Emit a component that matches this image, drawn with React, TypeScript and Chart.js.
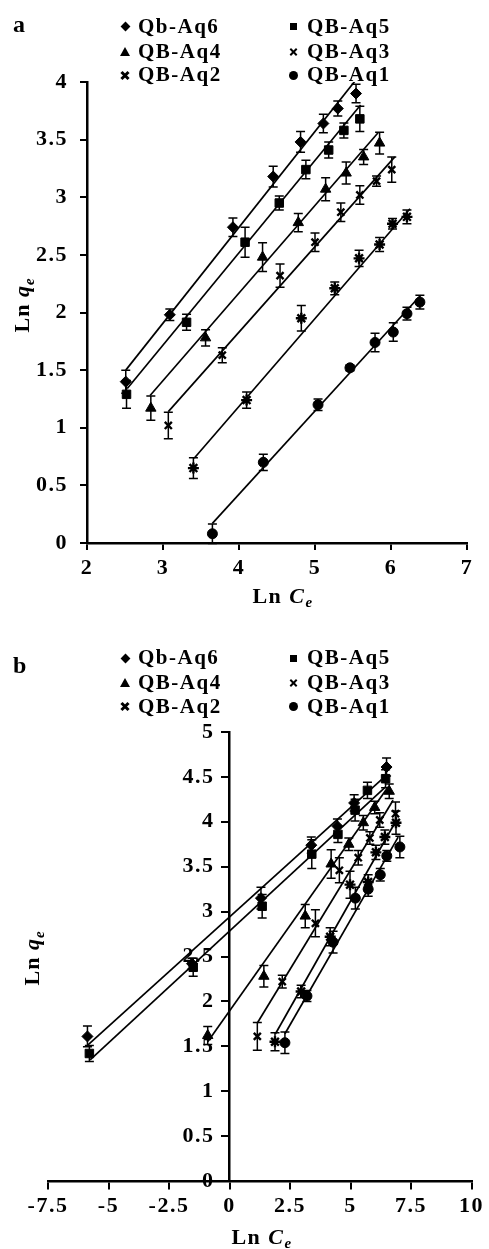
import React, { useEffect, useRef } from "react";
import { Chart, registerables } from "chart.js";

Chart.register(...registerables);

// ---------- data ----------
const seriesNames = ["Qb-Aq6", "QB-Aq5", "QB-Aq4", "QB-Aq3", "QB-Aq2", "QB-Aq1"];
const pointStyles = ["rectRot", "rect", "triangle", "crossRot", "star", "circle"];

// Panel a : [Ln Ce, Ln qe, error]
const aAq6 = [[2.51, 1.40, 0.10], [3.09, 1.98, 0.05], [3.92, 2.74, 0.08], [4.45, 3.18, 0.09], [4.81, 3.48, 0.09], [5.11, 3.64, 0.08], [5.30, 3.77, 0.065], [5.54, 3.90, 0.08]];
const aAq5 = [[2.52, 1.29, 0.12], [3.31, 1.915, 0.07], [4.08, 2.61, 0.13], [4.53, 2.95, 0.06], [4.88, 3.24, 0.08], [5.18, 3.41, 0.07], [5.38, 3.58, 0.065], [5.59, 3.68, 0.11]];
const aAq4 = [[2.84, 1.17, 0.105], [3.56, 1.78, 0.07], [4.31, 2.48, 0.125], [4.78, 2.78, 0.08], [5.14, 3.07, 0.10], [5.41, 3.21, 0.095], [5.64, 3.35, 0.065], [5.85, 3.47, 0.095]];
const aAq3 = [[3.07, 1.02, 0.115], [3.78, 1.63, 0.065], [4.54, 2.32, 0.10], [5.00, 2.61, 0.08], [5.34, 2.87, 0.08], [5.59, 3.02, 0.08], [5.81, 3.14, 0.045], [6.01, 3.24, 0.11]];
const aAq2 = [[3.40, 0.65, 0.09], [4.10, 1.24, 0.07], [4.82, 1.95, 0.11], [5.26, 2.21, 0.055], [5.58, 2.47, 0.07], [5.85, 2.59, 0.06], [6.02, 2.77, 0.045], [6.21, 2.83, 0.06]];
const aAq1 = [[3.65, 0.08, 0.085], [4.32, 0.70, 0.07], [5.04, 1.20, 0.05], [5.46, 1.52, 0.025], [5.79, 1.74, 0.08], [6.03, 1.83, 0.08], [6.21, 1.99, 0.055], [6.38, 2.09, 0.06]];
// fitted lines [x0, y0, x1, y1]
const aFits = [[2.51, 1.50, 5.54, 4.02], [2.53, 1.34, 5.60, 3.80], [2.83, 1.28, 5.83, 3.56], [3.07, 1.14, 6.05, 3.35], [3.41, 0.735, 6.25, 2.90], [3.65, 0.17, 6.39, 2.15]];
const aXTicks = [2, 3, 4, 5, 6, 7];
const aXLabels = ["2", "3", "4", "5", "6", "7"];
const aYTicks = [0, 0.5, 1, 1.5, 2, 2.5, 3, 3.5, 4];
const aYLabels = ["0", "0.5", "1", "1.5", "2", "2.5", "3", "3.5", "4"];

// Panel b : [Ln Ce, Ln qe, error]
const bAq6 = [[-5.87, 1.61, 0.115], [-1.55, 2.42, 0.06], [1.30, 3.15, 0.12], [3.38, 3.74, 0.09], [4.46, 3.95, 0.08], [5.15, 4.21, 0.09], [6.49, 4.61, 0.10]];
const bAq5 = [[-5.79, 1.42, 0.09], [-1.50, 2.38, 0.10], [1.35, 3.06, 0.13], [3.40, 3.64, 0.16], [4.48, 3.86, 0.09], [5.19, 4.13, 0.12], [5.70, 4.35, 0.09], [6.45, 4.48, 0.10]];
const bAq4 = [[-0.90, 1.62, 0.10], [1.42, 2.28, 0.12], [3.13, 2.95, 0.13], [4.20, 3.53, 0.16], [4.93, 3.75, 0.07], [5.53, 3.99, 0.08], [6.00, 4.16, 0.07], [6.60, 4.34, 0.08]];
const bAq3 = [[1.15, 1.61, 0.155], [2.18, 2.22, 0.07], [3.55, 2.87, 0.15], [4.54, 3.46, 0.14], [5.32, 3.60, 0.08], [5.80, 3.82, 0.07], [6.21, 4.02, 0.08], [6.86, 4.09, 0.13]];
const bAq2 = [[1.88, 1.55, 0.10], [2.96, 2.11, 0.07], [4.16, 2.72, 0.10], [4.98, 3.30, 0.15], [5.73, 3.33, 0.08], [6.05, 3.66, 0.08], [6.42, 3.83, 0.08], [6.88, 3.99, 0.13]];
const bAq1 = [[2.29, 1.54, 0.12], [3.20, 2.06, 0.06], [4.28, 2.66, 0.12], [5.20, 3.15, 0.12], [5.73, 3.25, 0.08], [6.23, 3.41, 0.07], [6.50, 3.62, 0.06], [7.04, 3.72, 0.12]];
const bFits = [[-5.87, 1.51, 6.28, 4.47], [-5.76, 1.35, 6.45, 4.39], [-0.90, 1.55, 6.56, 4.39], [1.15, 1.76, 6.76, 4.24], [1.90, 1.64, 6.90, 4.02], [2.29, 1.64, 6.97, 3.83]];
const bXTicks = [-7.5, -5, -2.5, 0, 2.5, 5, 7.5, 10];
const bXLabels = ["-7.5", "-5", "-2.5", "0", "2.5", "5", "7.5", "10"];
const bYTicks = [0, 0.5, 1, 1.5, 2, 2.5, 3, 3.5, 4, 4.5, 5];
const bYLabels = ["0", "0.5", "1", "1.5", "2", "2.5", "3", "3.5", "4", "4.5", "5"];

// ---------- helpers ----------
const SERIF = '"Liberation Serif", "Times New Roman", serif';
const tickFont = { family: SERIF, size: 22, weight: "bold" as const };

const radii = [5.5, 6, 6, 5, 5.5, 5];
const borderWidths = [1, 1, 1, 2.4, 2.4, 1];

function buildDatasets(series: number[][][], fits: number[][]) {
  const ds: any[] = [];
  series.forEach((pts, i) => {
    ds.push({
      label: seriesNames[i],
      errorBars: true,
      data: pts.map((p) => ({ x: p[0], y: p[1], err: p[2] })),
      pointStyle: pointStyles[i],
      pointRadius: radii[i],
      pointBorderWidth: borderWidths[i],
      backgroundColor: "#000",
      borderColor: "#000",
      showLine: false,
    });
  });
  fits.forEach((f) => {
    ds.push({
      label: "fit",
      data: [{ x: f[0], y: f[1] }, { x: f[2], y: f[3] }],
      showLine: true,
      borderColor: "#000",
      borderWidth: 1.7,
      pointRadius: 0,
      fill: false,
    });
  });
  return ds;
}

const errorBarPlugin = {
  id: "errorBars",
  beforeDatasetsDraw(chart: any) {
    const ctx = chart.ctx;
    const ys = chart.scales.y;
    ctx.save();
    ctx.strokeStyle = "#000";
    ctx.lineWidth = 1.5;
    chart.data.datasets.forEach((ds: any, i: number) => {
      if (!ds.errorBars) return;
      const meta = chart.getDatasetMeta(i);
      meta.data.forEach((el: any, j: number) => {
        const raw = ds.data[j];
        const top = ys.getPixelForValue(raw.y + raw.err);
        const bot = ys.getPixelForValue(raw.y - raw.err);
        const x = el.x;
        ctx.beginPath();
        ctx.moveTo(x, top);
        ctx.lineTo(x, bot);
        ctx.moveTo(x - 4.5, top);
        ctx.lineTo(x + 4.5, top);
        ctx.moveTo(x - 4.5, bot);
        ctx.lineTo(x + 4.5, bot);
        ctx.stroke();
      });
    });
    ctx.restore();
  },
};

const spacingPlugin = {
  id: "spacing",
  beforeUpdate(chart: any) {
    chart.ctx.letterSpacing = "1.5px";
  },
  beforeDraw(chart: any) {
    chart.ctx.letterSpacing = "1.5px";
  },
};

// a y axis placed at a data value draws its labels on the axis line; move them out past the tick marks
const shiftYLabelsPlugin = {
  id: "shiftY",
  beforeDraw(chart: any, _args: any, opts: any) {
    if (!opts || !opts.dx) return;
    const items = chart.scales.y.getLabelItems();
    items.forEach((it: any) => {
      if (!it._shifted) {
        it.options.translation[0] -= opts.dx;
        it._shifted = true;
      }
    });
  },
};

function makeAxis(min: number, max: number, ticks: number[], labels: string[], padding: number, extra: any) {
  return {
    type: "linear",
    min,
    max,
    afterBuildTicks: (s: any) => {
      s.ticks = ticks.map((v) => ({ value: v }));
    },
    ticks: {
      font: tickFont,
      color: "#000",
      padding,
      autoSkip: false,
      maxRotation: 0,
      callback: (_v: any, i: number) => labels[i],
    },
    grid: { drawOnChartArea: false, drawTicks: true, tickLength: 7, color: "#000", lineWidth: 2 },
    border: { display: true, color: "#000", width: 2.5 },
    ...extra,
  };
}

// ---------- overlay text ----------
function Txt({ x, baseline, size, children, center }: any) {
  const top = baseline - 0.8375 * size;
  const style: any = {
    position: "absolute",
    top,
    fontFamily: SERIF,
    fontWeight: "bold",
    fontSize: size,
    lineHeight: `${size}px`,
    whiteSpace: "nowrap",
    letterSpacing: "1.5px",
    color: "#000",
  };
  if (center) {
    style.left = x - 100;
    style.width = 200;
    style.textAlign = "center";
  } else {
    style.left = x;
  }
  return <div style={style}>{children}</div>;
}

function VTxt({ cx, cy, size, children }: any) {
  return (
    <div
      style={{
        position: "absolute",
        left: cx - 70,
        top: cy - size / 2,
        width: 140,
        height: size,
        lineHeight: `${size}px`,
        textAlign: "center",
        fontFamily: SERIF,
        fontWeight: "bold",
        fontSize: size,
        whiteSpace: "nowrap",
        letterSpacing: "1px",
        transform: "rotate(-90deg)",
        transformOrigin: "50% 50%",
        color: "#000",
      }}
    >
      {children}
    </div>
  );
}

const Sub = ({ children }: any) => (
  <span style={{ fontSize: "0.68em", position: "relative", top: "0.32em", fontStyle: "italic" }}>{children}</span>
);

function Marker({ kind, cx, cy }: any) {
  const base: any = { position: "absolute" };
  if (kind === 0) {
    return <div style={{ ...base, left: cx - 3.5, top: cy - 3.5, width: 7, height: 7, background: "#000", transform: "rotate(45deg)" }} />;
  }
  if (kind === 1) {
    return <div style={{ ...base, left: cx - 3.5, top: cy - 3.5, width: 7, height: 7, background: "#000" }} />;
  }
  if (kind === 2) {
    return (
      <div
        style={{
          ...base,
          left: cx - 5,
          top: cy - 5,
          width: 0,
          height: 0,
          borderLeft: "5px solid transparent",
          borderRight: "5px solid transparent",
          borderBottom: "9px solid #000",
        }}
      />
    );
  }
  if (kind === 3 || kind === 4) {
    const len = kind === 3 ? 9 : 10;
    const th = kind === 3 ? 2 : 3;
    const bar = (rot: number) => (
      <div
        style={{
          position: "absolute",
          left: cx - len / 2,
          top: cy - th / 2,
          width: len,
          height: th,
          background: "#000",
          transform: `rotate(${rot}deg)`,
        }}
      />
    );
    return (
      <>
        {bar(45)}
        {bar(-45)}
      </>
    );
  }
  return <div style={{ ...base, left: cx - 4.5, top: cy - 4.5, width: 9, height: 9, background: "#000", borderRadius: "50%" }} />;
}

function Legend({ rows }: { rows: number[] }) {
  const colMarker = [125, 293];
  const colText = [138, 307];
  const items: any[] = [];
  seriesNames.forEach((name, i) => {
    const col = i % 2;
    const row = Math.floor(i / 2);
    const baseline = rows[row];
    items.push(<Marker key={"m" + i} kind={i} cx={colMarker[col]} cy={baseline - 6.5} />);
    items.push(
      <Txt key={"t" + i} x={colText[col]} baseline={baseline} size={21}>
        {name}
      </Txt>
    );
  });
  return <>{items}</>;
}

export default function App() {
  const refA = useRef<HTMLCanvasElement>(null);
  const refB = useRef<HTMLCanvasElement>(null);

  useEffect(() => {
    const common = {
      animation: false,
      responsive: false,
      events: [],
    };

    const chartA = new Chart(refA.current as HTMLCanvasElement, {
      type: "scatter",
      data: { datasets: buildDatasets([aAq6, aAq5, aAq4, aAq3, aAq2, aAq1], aFits) },
      options: {
        ...common,
        plugins: { legend: { display: false }, tooltip: { enabled: false } },
        layout: { padding: { left: 27, right: 22, top: 82, bottom: 37 } },
        scales: {
          x: makeAxis(2, 7, aXTicks, aXLabels, 5, {
            position: "bottom",
            afterFit: (s: any) => {
              s.height = 40;
            },
          }),
          y: makeAxis(0, 4, aYTicks, aYLabels, 12, {
            position: "left",
            afterFit: (s: any) => {
              s.width = 60;
            },
          }),
        },
      } as any,
      plugins: [errorBarPlugin, spacingPlugin],
    } as any);

    const chartB = new Chart(refB.current as HTMLCanvasElement, {
      type: "scatter",
      data: { datasets: buildDatasets([bAq6, bAq5, bAq4, bAq3, bAq2, bAq1], bFits) },
      options: {
        ...common,
        plugins: { legend: { display: false }, tooltip: { enabled: false }, shiftY: { dx: 15 } },
        layout: { padding: { left: 48, right: 14, top: 112, bottom: 68 } },
        scales: {
          x: makeAxis(-7.5, 10, bXTicks, bXLabels, 5, { position: { y: 0 } }),
          y: makeAxis(0, 5, bYTicks, bYLabels, 8, { position: { x: 0 } }),
        },
      } as any,
      plugins: [errorBarPlugin, spacingPlugin, shiftYLabelsPlugin],
    } as any);

    return () => {
      chartA.destroy();
      chartB.destroy();
    };
  }, []);

  return (
    <div style={{ position: "absolute", left: 0, top: 0, width: 489, height: 1249, background: "#fff", overflow: "hidden" }}>
      <canvas ref={refA} width={489} height={620} style={{ position: "absolute", left: 0, top: 0, width: 489, height: 620 }} />
      <canvas ref={refB} width={489} height={629} style={{ position: "absolute", left: 0, top: 620, width: 489, height: 629 }} />

      <Txt x={13} baseline={32} size={24}>a</Txt>
      <Txt x={13} baseline={673} size={24}>b</Txt>

      <Legend rows={[33.3, 58.3, 81.7]} />
      <Legend rows={[665, 689.3, 713.3]} />

      <VTxt cx={22} cy={305} size={22}>
        Ln <i>q</i>
        <Sub>e</Sub>
      </VTxt>
      <VTxt cx={32} cy={958} size={22}>
        Ln <i>q</i>
        <Sub>e</Sub>
      </VTxt>

      <Txt x={283} baseline={603} size={22} center>
        Ln <i>C</i>
        <Sub>e</Sub>
      </Txt>
      <Txt x={262} baseline={1244} size={22} center>
        Ln <i>C</i>
        <Sub>e</Sub>
      </Txt>
    </div>
  );
}
